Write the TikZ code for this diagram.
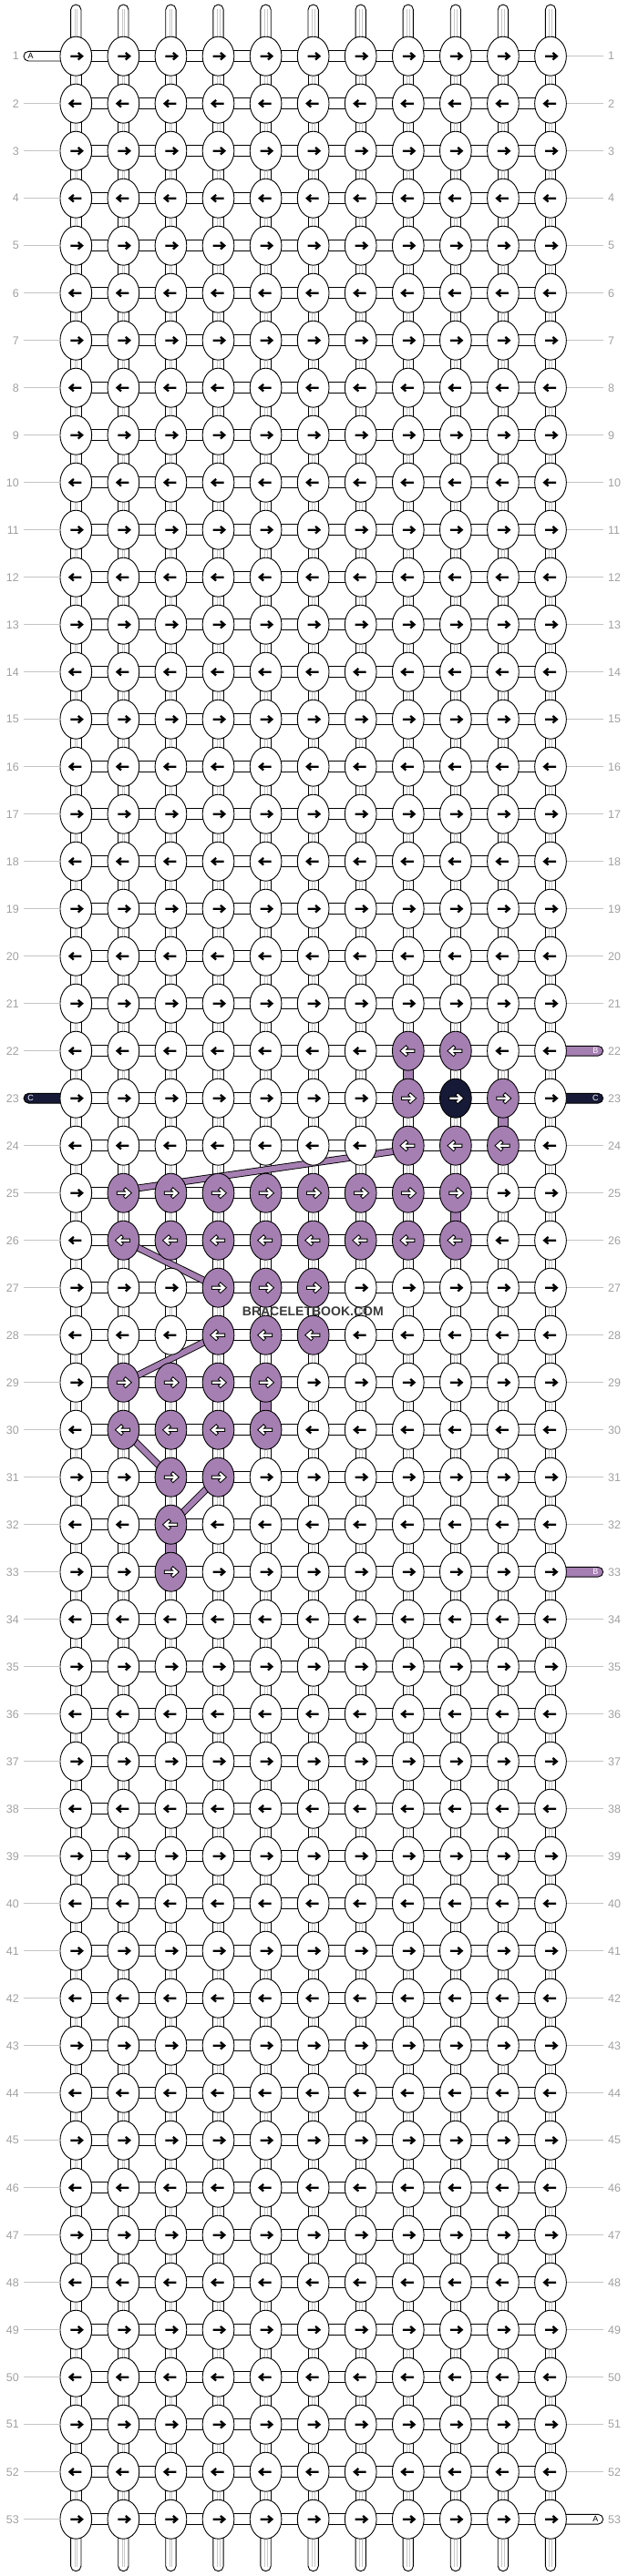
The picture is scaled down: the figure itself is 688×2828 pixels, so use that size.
\documentclass[tikz,border=0pt]{standalone}
\usepackage{fontspec}
\setmainfont{Liberation Sans}
\usetikzlibrary{shapes.geometric}

\definecolor{Lilac}{HTML}{A57EB2}
\definecolor{Navy}{HTML}{161A37}
\definecolor{NumGrey}{HTML}{A0A0A0}
\definecolor{GuideGrey}{HTML}{C4C4C4}
\definecolor{ThreadGrey}{HTML}{C8C8C8}
\definecolor{MarkGrey}{HTML}{3A3A3A}

\pgfdeclarelayer{strands}
\pgfdeclarelayer{floats}
\pgfsetlayers{strands,floats,main}

% colour of the knots that are not white (row, column)
\newcommand{\KnotColour}[3]{\expandafter\gdef\csname kc-#1-#2\endcsname{#3}}
\KnotColour{22}{8}{Lilac}\KnotColour{22}{9}{Lilac}
\KnotColour{23}{8}{Lilac}\KnotColour{23}{9}{Navy}\KnotColour{23}{10}{Lilac}
\KnotColour{24}{8}{Lilac}\KnotColour{24}{9}{Lilac}\KnotColour{24}{10}{Lilac}
\foreach \Col in {2,...,9}{\KnotColour{25}{\Col}{Lilac}\KnotColour{26}{\Col}{Lilac}}
\foreach \Col in {4,5,6}{\KnotColour{27}{\Col}{Lilac}\KnotColour{28}{\Col}{Lilac}}
\foreach \Col in {2,...,5}{\KnotColour{29}{\Col}{Lilac}\KnotColour{30}{\Col}{Lilac}}
\KnotColour{31}{3}{Lilac}\KnotColour{31}{4}{Lilac}
\KnotColour{32}{3}{Lilac}
\KnotColour{33}{3}{Lilac}

\tikzset{
	knot/.style={ellipse,draw,line width=0.9pt,fill=white,minimum width=34.7pt,minimum height=43pt,inner sep=0pt},
	link/.style={draw,line width=0.9pt,fill=white},
	thread/.style={ThreadGrey,line width=0.8pt},
	band/.style={draw=black,line width=0.9pt,double=Lilac,double distance=6pt},
	guide/.style={GuideGrey,line width=0.9pt},
	rownum/.style={text=NumGrey,font=\fontsize{12.5}{13}\selectfont,inner sep=0pt},
	tag/.style={font=\fontsize{9}{9}\selectfont,inner sep=0pt},
	pics/plainarrow/.style={code={
		\draw[line width=2.3pt,line join=miter] (-6*#1,0) -- (6*#1,0) (2.4*#1,-3.8) -- (6.8*#1,0) -- (2.4*#1,3.8);
	}},
	pics/hollowarrow/.style={code={
		\draw[line width=4.2pt,line cap=rect,line join=miter] (-5.5*#1,0) -- (5*#1,0) (2.4*#1,-3.6) -- (6.4*#1,0) -- (2.4*#1,3.6);
		\draw[white,line width=2.2pt,line cap=rect,line join=miter] (-5.5*#1,0) -- (5*#1,0) (2.4*#1,-3.6) -- (6.4*#1,0) -- (2.4*#1,3.6);
	}},
}

\begin{document}
\begin{tikzpicture}[x=1pt,y=-1pt]
	\useasboundingbox (0,0) rectangle (688,2828);

	% knots
	\foreach \Row in {1,...,53}{
		\foreach \Col in {1,...,11}{
			\pgfmathsetmacro\X{83.3+52.07*(\Col-1)}
			\pgfmathsetmacro\Y{61.7+52*(\Row-1)}
			\pgfmathsetmacro\Dir{ifthenelse(isodd(\Row),1,-1)}
			\ifcsname kc-\Row-\Col\endcsname
				\edef\Fill{\csname kc-\Row-\Col\endcsname}
				\node[knot,fill=\Fill] (k-\Row-\Col) at (\X,\Y) {};
				\pic at (k-\Row-\Col) {hollowarrow=\Dir};
			\else
				\node[knot] (k-\Row-\Col) at (\X,\Y) {};
				\pic at (k-\Row-\Col) {plainarrow=\Dir};
			\fi
		}
	}

	\begin{pgfonlayer}{strands}
		% links inside a row
		\foreach \Row in {1,...,53}{
			\foreach \Col [evaluate=\Col as \Next using int(\Col+1)] in {1,...,10}{
				\draw[link] ([xshift=-1.5pt,yshift=5.85pt]k-\Row-\Col.east) rectangle ([xshift=1.5pt,yshift=-5.85pt]k-\Row-\Next.west);
			}
		}
		% links between rows
		\foreach \Row [evaluate=\Row as \Next using int(\Row+1)] in {1,...,52}{
			\foreach \Col in {1,...,11}{
				\draw[link] ([xshift=-5.65pt,yshift=1.5pt]k-\Row-\Col.south) rectangle ([xshift=5.65pt,yshift=-1.5pt]k-\Next-\Col.north);
				\draw[thread] ([xshift=-1.4pt]k-\Row-\Col.south) -- ([xshift=-1.4pt]k-\Next-\Col.north)
					([xshift=1.4pt]k-\Row-\Col.south) -- ([xshift=1.4pt]k-\Next-\Col.north);
			}
		}
		\foreach \Row/\Col in {22/8,23/10,25/9,29/5,32/3}{
			\pgfmathtruncatemacro\Next{\Row+1}
			\draw[link,fill=Lilac] ([xshift=-5.65pt,yshift=1.5pt]k-\Row-\Col.south) rectangle ([xshift=5.65pt,yshift=-1.5pt]k-\Next-\Col.north);
		}
		% loose ends at top and bottom
		\foreach \Col in {1,...,11}{
			\pgfmathsetmacro\X{83.3+52.07*(\Col-1)}
			\coordinate (TopEnd-\Col) at (\X,5);
			\coordinate (BotEnd-\Col) at (\X,2822.7);
			\draw[link] ([xshift=-5.65pt,yshift=-1.5pt]k-1-\Col.north) -- ([xshift=-5.65pt,yshift=-5.65pt]TopEnd-\Col)
				arc[start angle=180,end angle=0,radius=5.65pt] -- ([xshift=5.65pt,yshift=-1.5pt]k-1-\Col.north) -- cycle;
			\draw[thread] ([xshift=-1.4pt]k-1-\Col.north) -- ([xshift=-1.4pt,yshift=-5pt]TopEnd-\Col)
				([xshift=1.4pt]k-1-\Col.north) -- ([xshift=1.4pt,yshift=-5pt]TopEnd-\Col);
			\draw[link] ([xshift=-5.65pt,yshift=1.5pt]k-53-\Col.south) -- ([xshift=-5.65pt,yshift=5.65pt]BotEnd-\Col)
				arc[start angle=180,end angle=360,radius=5.65pt] -- ([xshift=5.65pt,yshift=1.5pt]k-53-\Col.south) -- cycle;
			\draw[thread] ([xshift=-1.4pt]k-53-\Col.south) -- ([xshift=-1.4pt,yshift=5pt]BotEnd-\Col)
				([xshift=1.4pt]k-53-\Col.south) -- ([xshift=1.4pt,yshift=5pt]BotEnd-\Col);
		}
		% strand bars with their letters
		\foreach \Row/\Fill/\Ink/\Name in {1/white/black/A,23/Navy/white/C}{
			\coordinate (LeftEnd-\Row) at (26,{61.7+52*(\Row-1)});
			\draw[link,fill=\Fill] ([xshift=1.5pt,yshift=5.35pt]k-\Row-1.west) -- ([xshift=5.35pt,yshift=5.35pt]LeftEnd-\Row)
				arc[start angle=90,end angle=270,radius=5.35pt] -- ([xshift=1.5pt,yshift=-5.35pt]k-\Row-1.west) -- cycle;
			\node[tag,text=\Ink] (LeftTag-\Row) at ([xshift=7.7pt]LeftEnd-\Row) {\Name};
		}
		\foreach \Row/\Fill/\Ink/\Name in {22/Lilac/white/B,23/Navy/white/C,33/Lilac/white/B,53/white/black/A}{
			\coordinate (RightEnd-\Row) at (661.7,{61.7+52*(\Row-1)});
			\draw[link,fill=\Fill] ([xshift=-1.5pt,yshift=5.35pt]k-\Row-11.east) -- ([xshift=-5.35pt,yshift=5.35pt]RightEnd-\Row)
				arc[start angle=90,end angle=-90,radius=5.35pt] -- ([xshift=-1.5pt,yshift=-5.35pt]k-\Row-11.east) -- cycle;
			\node[tag,text=\Ink] (RightTag-\Row) at ([xshift=-8.4pt]RightEnd-\Row) {\Name};
		}
	\end{pgfonlayer}

	% strands floating over the back
	\begin{pgfonlayer}{floats}
		\draw[band] ([yshift=-4pt]k-24-8.center) -- ([yshift=3pt]k-25-2.center);
		\foreach \RowA/\ColA/\RowB/\ColB in {26/2/27/4,28/4/29/2,30/2/31/3,31/4/32/3}
			\draw[band] (k-\RowA-\ColA.center) -- (k-\RowB-\ColB.center);
	\end{pgfonlayer}

	% row numbers
	\foreach \Row in {1,...,53}{
		\node[rownum,anchor=east] (LeftNum-\Row) at (21,{61.7+52*(\Row-1)}) {\Row};
		\node[rownum,anchor=west] (RightNum-\Row) at (667,{61.7+52*(\Row-1)}) {\Row};
	}
	\foreach \Row in {2,...,22,24,25,...,53}
		\draw[guide] ([xshift=5pt]LeftNum-\Row.east) -- (k-\Row-1.west);
	\foreach \Row in {1,...,21,24,25,...,32,34,35,...,52}
		\draw[guide] (k-\Row-11.east) -- ([xshift=-5pt]RightNum-\Row.west);

	\node[font=\bfseries\fontsize{14}{14}\selectfont,text=MarkGrey,inner sep=0pt] (Watermark) at (343.3,1439.3) {BRACELETBOOK.COM};
\end{tikzpicture}
\end{document}
